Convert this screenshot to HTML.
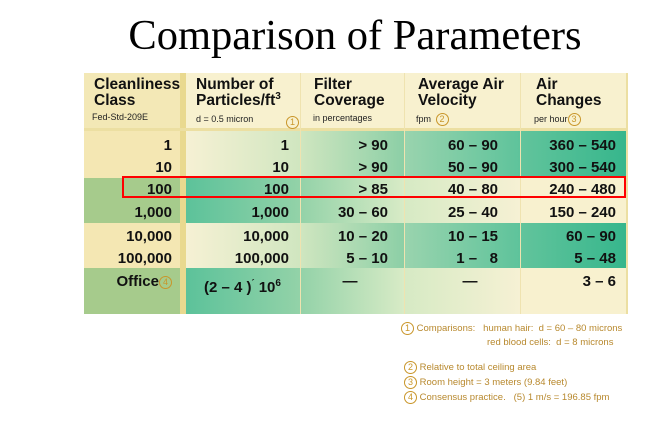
<!DOCTYPE html>
<html><head><meta charset="utf-8"><style>
body{margin:0;width:656px;height:430px;background:#fff;position:relative;overflow:hidden;font-family:"Liberation Sans",sans-serif}
.a{position:absolute}
.t{position:absolute;font-weight:bold;font-size:15px;color:#111;text-align:right;line-height:18px}
.h{position:absolute;font-weight:bold;font-size:15.5px;line-height:16px;color:#111}
.s{position:absolute;font-size:9px;color:#222}
.c{display:inline-block;width:11px;height:11px;border:1.3px solid #c9962a;border-radius:50%;font-size:9px;color:#c9962a;text-align:center;line-height:11px;box-sizing:content-box;font-weight:normal}
.n{position:absolute;font-size:9.5px;color:#b8892e;line-height:12px}
</style></head><body>
<div class="a" style="left:0;top:11px;width:710px;text-align:center;font-family:'Liberation Serif',serif;font-size:42.5px;color:#000">Comparison of Parameters</div>

<!-- header bg -->
<div class="a" style="left:84px;top:73px;width:543px;height:57px;background:#f8f1cf"></div>
<div class="a" style="left:84px;top:73px;width:96px;height:57px;background:#f3e8b6"></div>
<!-- col1 -->
<div class="a" style="left:84px;top:130px;width:96px;height:48px;background:#f4e7b3"></div>
<div class="a" style="left:84px;top:178px;width:96px;height:45px;background:#a6cb8c"></div>
<div class="a" style="left:84px;top:223px;width:96px;height:45px;background:#f4e7b3"></div>
<div class="a" style="left:84px;top:268px;width:96px;height:46px;background:#a6cb8c"></div>
<div class="a" style="left:180px;top:73px;width:6px;height:241px;background:#e9d98f"></div>
<!-- col2 -->
<div class="a" style="left:186px;top:130px;width:114px;height:48px;background:linear-gradient(90deg,#f6f1d4,#d0e6c0)"></div>
<div class="a" style="left:186px;top:178px;width:114px;height:45px;background:linear-gradient(90deg,#5cc29a,#93d2a8)"></div>
<div class="a" style="left:186px;top:223px;width:114px;height:45px;background:linear-gradient(90deg,#f6f1d4,#d0e6c0)"></div>
<div class="a" style="left:186px;top:268px;width:114px;height:46px;background:linear-gradient(90deg,#5cc29a,#93d2a8)"></div>
<!-- col3 -->
<div class="a" style="left:300px;top:130px;width:104px;height:48px;background:linear-gradient(90deg,#d0e6c0,#8ccfa6)"></div>
<div class="a" style="left:300px;top:178px;width:104px;height:45px;background:linear-gradient(90deg,#93d2a8,#d8ebc6)"></div>
<div class="a" style="left:300px;top:223px;width:104px;height:45px;background:linear-gradient(90deg,#d0e6c0,#8ccfa6)"></div>
<div class="a" style="left:300px;top:268px;width:104px;height:46px;background:linear-gradient(90deg,#93d2a8,#d8ebc6)"></div>
<!-- col4 -->
<div class="a" style="left:404px;top:130px;width:116px;height:48px;background:linear-gradient(90deg,#9ad4ae,#5ec39b)"></div>
<div class="a" style="left:404px;top:178px;width:116px;height:45px;background:linear-gradient(90deg,#d6eac4,#f6f1d4)"></div>
<div class="a" style="left:404px;top:223px;width:116px;height:45px;background:linear-gradient(90deg,#9ad4ae,#5ec39b)"></div>
<div class="a" style="left:404px;top:268px;width:116px;height:46px;background:linear-gradient(90deg,#d6eac4,#f6f1d4)"></div>
<!-- col5 -->
<div class="a" style="left:520px;top:130px;width:107px;height:48px;background:linear-gradient(90deg,#62c49c,#36b68c)"></div>
<div class="a" style="left:520px;top:178px;width:107px;height:45px;background:#f8f1cf"></div>
<div class="a" style="left:520px;top:223px;width:107px;height:45px;background:linear-gradient(90deg,#62c49c,#36b68c)"></div>
<div class="a" style="left:520px;top:268px;width:107px;height:46px;background:#f8f1cf"></div>
<!-- separators -->
<div class="a" style="left:84px;top:128px;width:543px;height:3px;background:#ecdfa2"></div>
<div class="a" style="left:300px;top:73px;width:1px;height:241px;background:#efe3b0"></div>
<div class="a" style="left:404px;top:73px;width:1px;height:241px;background:#efe3b0"></div>
<div class="a" style="left:520px;top:73px;width:1px;height:241px;background:#efe3b0"></div>
<div class="a" style="left:626px;top:73px;width:2px;height:241px;background:#ecdfa2"></div>

<!-- headers -->
<div class="h" style="left:94px;top:77px">Cleanliness<br>Class</div>
<div class="s" style="left:92px;top:112px">Fed-Std-209E</div>
<div class="h" style="left:196px;top:77px">Number of<br>Particles/ft<sup style="font-size:10px;line-height:0">3</sup></div>
<div class="s" style="left:196px;top:114px">d = 0.5 micron</div>
<div class="a" style="left:286px;top:112px"><span class="c">1</span></div>
<div class="h" style="left:314px;top:77px">Filter<br>Coverage</div>
<div class="s" style="left:313px;top:113px">in percentages</div>
<div class="h" style="left:418px;top:77px">Average Air<br>Velocity</div>
<div class="s" style="left:416px;top:113px">fpm <span class="c" style="margin-left:2px">2</span></div>
<div class="h" style="left:536px;top:77px">Air<br>Changes</div>
<div class="s" style="left:534px;top:113px">per hour<span class="c">3</span></div>

<!-- data -->
<div class="t" style="left:84px;width:88px;top:137px">1<br><span style="position:relative;top:4px">10</span></div>
<div class="t" style="left:84px;width:88px;top:181px">100</div>
<div class="t" style="left:84px;width:88px;top:204px">1,000</div>
<div class="t" style="left:84px;width:88px;top:228px">10,000</div>
<div class="t" style="left:84px;width:88px;top:250px">100,000</div>
<div class="t" style="left:84px;width:88px;top:273px">Office<span class="c" style="vertical-align:1px">4</span></div>

<div class="t" style="left:190px;width:99px;top:137px">1</div>
<div class="t" style="left:190px;width:99px;top:159px">10</div>
<div class="t" style="left:190px;width:99px;top:181px">100</div>
<div class="t" style="left:190px;width:99px;top:204px">1,000</div>
<div class="t" style="left:190px;width:99px;top:228px">10,000</div>
<div class="t" style="left:190px;width:99px;top:250px">100,000</div>
<div class="t" style="left:190px;width:99px;top:274px;text-align:left;padding-left:14px">(2 – 4 )<sup style="font-size:9px">´</sup> 10<sup style="font-size:10px;line-height:0">6</sup></div>

<div class="t" style="left:300px;width:88px;top:137px">&gt; 90</div>
<div class="t" style="left:300px;width:88px;top:159px">&gt; 90</div>
<div class="t" style="left:300px;width:88px;top:181px">&gt; 85</div>
<div class="t" style="left:300px;width:88px;top:204px">30 – 60</div>
<div class="t" style="left:300px;width:88px;top:228px">10 – 20</div>
<div class="t" style="left:300px;width:88px;top:250px">5 – 10</div>
<div class="t" style="left:300px;width:100px;top:273px;text-align:center">—</div>

<div class="t" style="left:404px;width:94px;top:137px">60 – 90</div>
<div class="t" style="left:404px;width:94px;top:159px">50 – 90</div>
<div class="t" style="left:404px;width:94px;top:181px">40 – 80</div>
<div class="t" style="left:404px;width:94px;top:204px">25 – 40</div>
<div class="t" style="left:404px;width:94px;top:228px">10 – 15</div>
<div class="t" style="left:404px;width:94px;top:250px;white-space:pre">1 –   8</div>
<div class="t" style="left:404px;width:132px;top:273px;text-align:center">—</div>

<div class="t" style="left:520px;width:96px;top:137px">360 – 540</div>
<div class="t" style="left:520px;width:96px;top:159px">300 – 540</div>
<div class="t" style="left:520px;width:96px;top:181px">240 – 480</div>
<div class="t" style="left:520px;width:96px;top:204px">150 – 240</div>
<div class="t" style="left:520px;width:96px;top:228px">60 – 90</div>
<div class="t" style="left:520px;width:96px;top:250px">5 – 48</div>
<div class="t" style="left:520px;width:96px;top:273px">3 – 6</div>

<!-- red box -->
<div class="a" style="left:122px;top:176px;width:500px;height:18px;border:2.5px solid #f00"></div>

<!-- notes -->
<div class="n" style="left:401px;top:322px"><span class="c">1</span> Comparisons: &nbsp;&nbsp;human hair: &nbsp;d = 60 – 80 microns</div>
<div class="n" style="left:487px;top:337px">red blood cells: &nbsp;d = 8 microns</div>
<div class="n" style="left:404px;top:361px"><span class="c">2</span> Relative to total ceiling area</div>
<div class="n" style="left:404px;top:376px"><span class="c">3</span> Room height = 3 meters (9.84 feet)</div>
<div class="n" style="left:404px;top:391px"><span class="c">4</span> Consensus practice. &nbsp;&nbsp;(5) 1 m/s = 196.85 fpm</div>
</body></html>
